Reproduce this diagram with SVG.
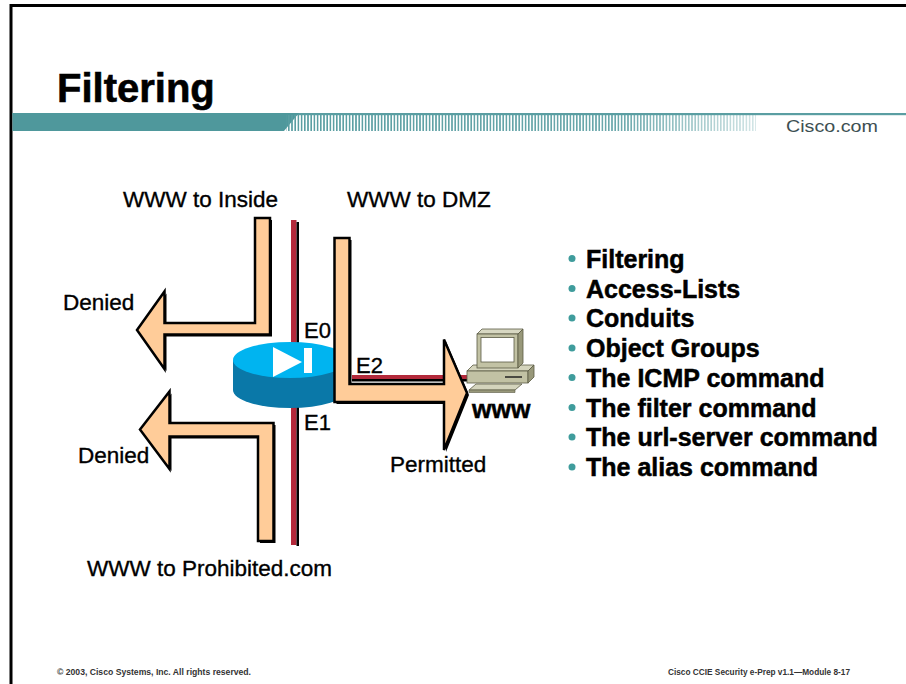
<svg xmlns="http://www.w3.org/2000/svg" width="906" height="684" viewBox="0 0 906 684">
  <defs>
    <style>
      .lbl { font-family: "Liberation Sans", Arial, sans-serif; font-size: 22.5px; fill: #000; stroke: #000; stroke-width: 0.35px; }
      .port { font-family: "Liberation Sans", Arial, sans-serif; font-size: 22px; fill: #000; stroke: #000; stroke-width: 0.35px; }
      .bul { font-family: "Liberation Sans", Arial, sans-serif; font-size: 25px; font-weight: bold; fill: #000; stroke: #000; stroke-width: 0.5px; }
      .foot { font-family: "Liberation Sans", Arial, sans-serif; font-size: 9px; font-weight: bold; fill: #333; }
      .flow { fill: #ffcc99; stroke: #000; stroke-width: 2.5; stroke-linejoin: miter; }
      .shadow { fill: #000; }
      .dot { fill: #3f9c9c; }
    </style>
    <pattern id="ticks" patternUnits="userSpaceOnUse" x="0" y="0" width="3.2" height="20">
      <rect x="0" y="0" width="1.6" height="20" fill="#5a9ea2"/>
    </pattern>
    <linearGradient id="fadeGrad" x1="288" y1="0" x2="760" y2="0" gradientUnits="userSpaceOnUse">
      <stop offset="0" stop-color="#fff" stop-opacity="1"/>
      <stop offset="0.7" stop-color="#fff" stop-opacity="0.9"/>
      <stop offset="1" stop-color="#fff" stop-opacity="0.25"/>
    </linearGradient>
    <mask id="fade" maskUnits="userSpaceOnUse" x="280" y="110" width="490" height="25">
      <rect x="280" y="110" width="490" height="25" fill="url(#fadeGrad)"/>
    </mask>
  </defs>

  <rect x="0" y="0" width="906" height="684" fill="#fff"/>

  <!-- slide frame -->
  <g id="frame">
    <path d="M11 684 V5.5 H906" fill="none" stroke="#000" stroke-width="3"/>
  </g>

  <!-- header -->
  <g id="header">
    <text x="57" y="102" font-family="'Liberation Sans', Arial, sans-serif" font-size="40" font-weight="bold" fill="#000" stroke="#000" stroke-width="0.6">Filtering</text>
    <rect x="12.5" y="113" width="894" height="2.2" fill="#5a9ea2"/>
    <polygon points="12.5,113 299,113 284,131 12.5,131" fill="#4f989c"/>
    <rect x="286" y="115" width="470" height="16" fill="url(#ticks)" mask="url(#fade)"/>
    <text x="786" y="131.5" font-family="'Liberation Sans', Arial, sans-serif" font-size="16.5" fill="#3d4f52" textLength="92" lengthAdjust="spacingAndGlyphs">Cisco.com</text>
  </g>

  <!-- network segments -->
  <g id="links">
    <rect x="291" y="220" width="5.5" height="325" fill="#b3293b"/>
    <rect x="296.5" y="222" width="2.5" height="324" fill="#000"/>
    <rect x="352" y="375" width="116" height="4" fill="#b3293b"/>
    <rect x="352" y="379" width="116" height="2.5" fill="#000"/>
  </g>

  <!-- firewall -->
  <g id="firewall">
    <path d="M233 360 V390 A57 18 0 0 0 347 390 V360 Z" fill="#0a78a8"/>
    <ellipse cx="290" cy="360" rx="57" ry="18" fill="#00b4f0"/>
    <polygon points="273,347 273,377 302,362" fill="#fff"/>
    <rect x="304" y="348" width="8" height="25" fill="#fff"/>
  </g>

  <!-- web server -->
  <g id="www-server">
    <polygon points="467,371 473,365 534,365 528,371" fill="#d4d4bc" stroke="#5a5a44" stroke-width="0.8"/>
    <rect x="467" y="371" width="61" height="12" fill="#c2c2a4" stroke="#5a5a44" stroke-width="0.8"/>
    <polygon points="528,371 534,365 534,377 528,383" fill="#98987a" stroke="#5a5a44" stroke-width="0.8"/>
    <line x1="505" y1="377" x2="522" y2="377" stroke="#222" stroke-width="1.5"/>
    <polygon points="477,334 482,329 523,329 518,334" fill="#d8d8c2" stroke="#5a5a44" stroke-width="0.8"/>
    <rect x="477" y="334" width="41" height="34" fill="#c2c2a4" stroke="#5a5a44" stroke-width="0.8"/>
    <polygon points="518,334 523,329 523,363 518,368" fill="#98987a" stroke="#5a5a44" stroke-width="0.8"/>
    <rect x="481" y="337.5" width="33" height="24.5" fill="#fff" stroke="#5a5a44" stroke-width="0.8"/>
    <polygon points="469,390 476,384 522,384 515,390" fill="#d4d4bc" stroke="#5a5a44" stroke-width="0.8"/>
    <polygon points="469,390 515,390 515,392.5 469,392.5" fill="#98987a" stroke="#5a5a44" stroke-width="0.6"/>
  </g>

  <!-- traffic flows -->
  <g id="flows">
    <g id="flow-inside">
      <polygon class="shadow" transform="translate(2,2)" points="255,218 270,218 270,334.5 164.5,334.5 164.5,369 137,330 164.5,291.5 164.5,323 255,323"/>
      <polygon class="flow" points="255,218 270,218 270,334.5 164.5,334.5 164.5,369 137,330 164.5,291.5 164.5,323 255,323"/>
    </g>
    <g id="flow-prohibited">
      <polygon class="shadow" transform="translate(2,2)" points="273.5,423 273.5,541 258,541 258,436.5 169.5,436.5 169.5,469 140,429.5 169.5,391.5 169.5,423"/>
      <polygon class="flow" points="273.5,423 273.5,541 258,541 258,436.5 169.5,436.5 169.5,469 140,429.5 169.5,391.5 169.5,423"/>
    </g>
    <g id="flow-dmz">
      <polygon class="shadow" transform="translate(2,2)" points="334.5,238 349.5,238 349.5,384 444,384 444,339.5 467,393 444,450 444,402 334.5,402"/>
      <polygon class="flow" points="334.5,238 349.5,238 349.5,384 444,384 444,339.5 467,393 444,450 444,402 334.5,402"/>
    </g>
  </g>

  <!-- labels -->
  <g id="labels">
    <text class="lbl" x="123" y="207">WWW to Inside</text>
    <text class="lbl" x="347" y="207">WWW to DMZ</text>
    <text class="lbl" x="63" y="310">Denied</text>
    <text class="lbl" x="78" y="463">Denied</text>
    <text class="lbl" x="390" y="472">Permitted</text>
    <text class="lbl" x="87" y="576">WWW to Prohibited.com</text>
    <text class="port" x="304" y="338">E0</text>
    <text class="port" x="356" y="373">E2</text>
    <text class="port" x="304" y="430">E1</text>
    <text x="472" y="418" font-family="'Liberation Sans', Arial, sans-serif" font-size="25" font-weight="bold" fill="#000" stroke="#000" stroke-width="0.5">www</text>
  </g>

  <!-- topic list -->
  <g id="topics">
    <circle class="dot" cx="572" cy="258.5" r="3.5"/>
    <text class="bul" x="586" y="267.5">Filtering</text>
    <circle class="dot" cx="572" cy="288.5" r="3.5"/>
    <text class="bul" x="586" y="297.5">Access-Lists</text>
    <circle class="dot" cx="572" cy="318" r="3.5"/>
    <text class="bul" x="586" y="327">Conduits</text>
    <circle class="dot" cx="572" cy="348" r="3.5"/>
    <text class="bul" x="586" y="357">Object Groups</text>
    <circle class="dot" cx="572" cy="377.5" r="3.5"/>
    <text class="bul" x="586" y="386.5">The ICMP command</text>
    <circle class="dot" cx="572" cy="407.5" r="3.5"/>
    <text class="bul" x="586" y="416.5">The filter command</text>
    <circle class="dot" cx="572" cy="437" r="3.5"/>
    <text class="bul" x="586" y="446">The url-server command</text>
    <circle class="dot" cx="572" cy="467" r="3.5"/>
    <text class="bul" x="586" y="476">The alias command</text>
  </g>

  <!-- footer -->
  <g id="footer">
    <text class="foot" x="57" y="675" textLength="194" lengthAdjust="spacingAndGlyphs">© 2003, Cisco Systems, Inc. All rights reserved.</text>
    <text class="foot" x="668" y="675" textLength="182" lengthAdjust="spacingAndGlyphs">Cisco CCIE Security e-Prep v1.1—Module 8-17</text>
  </g>
</svg>
